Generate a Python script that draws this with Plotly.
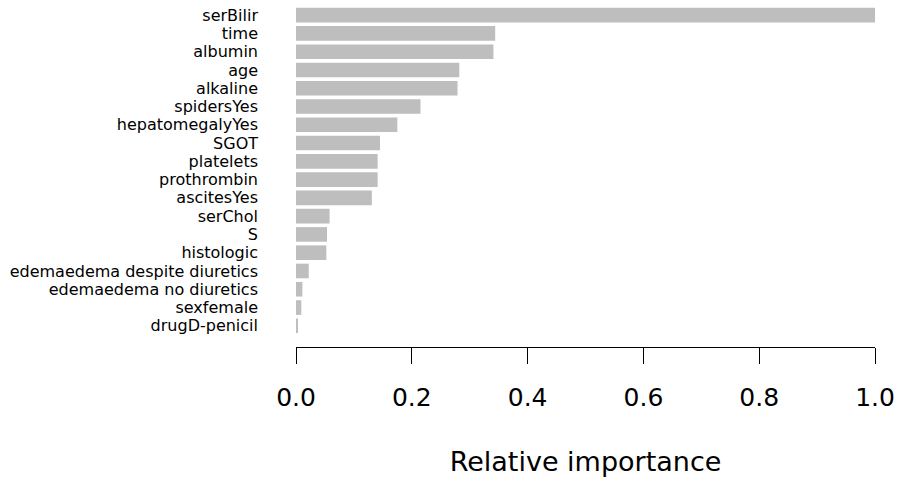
import plotly.graph_objects as go

features = ["serBilir", "time", "albumin", "age", "alkaline", "spidersYes",
            "hepatomegalyYes", "SGOT", "platelets", "prothrombin", "ascitesYes",
            "serChol", "S", "histologic", "edemaedema despite diuretics",
            "edemaedema no diuretics", "sexfemale", "drugD-penicil"]
importance = [1.0, 0.344, 0.341, 0.282, 0.279, 0.215, 0.175, 0.145, 0.141,
              0.141, 0.131, 0.058, 0.0535, 0.0524, 0.022, 0.011, 0.0092, 0.0023]
x_ticks = [0.0, 0.2, 0.4, 0.6, 0.8, 1.0]

FONT = "DejaVu Sans"

fig = go.Figure(go.Bar(
    x=importance, y=features, orientation="h",
    marker=dict(color="#bebebe", line=dict(width=0)),
    width=0.8,
))

fig.update_layout(
    width=899, height=481,
    margin=dict(l=296, r=24, t=6, b=134, pad=0),
    plot_bgcolor="white", paper_bgcolor="white",
    showlegend=False,
    font=dict(family=FONT, color="black"),
)
fig.update_xaxes(
    range=[0, 1], tickvals=x_ticks, tickformat=".1f",
    showgrid=False, zeroline=False,
    showline=True, linecolor="black", linewidth=1.3,
    ticks="outside", ticklen=16, tickwidth=1.3, tickcolor="black",
    tickfont=dict(size=25, family=FONT, color="black"),
    ticklabelstandoff=12,
    title=dict(text="Relative importance", font=dict(size=27, family=FONT, color="black"),
               standoff=40),
    automargin=False,
)
fig.update_yaxes(
    categoryorder="array", categoryarray=features,
    tickmode="array", tickvals=features, ticktext=features,
    range=[18.16, -0.5],
    showgrid=False, zeroline=False, showline=False,
    ticks="", tickfont=dict(size=16, family=FONT, color="black"),
    ticklabelstandoff=37,
    automargin=False,
)

fig.write_html("out.html")
